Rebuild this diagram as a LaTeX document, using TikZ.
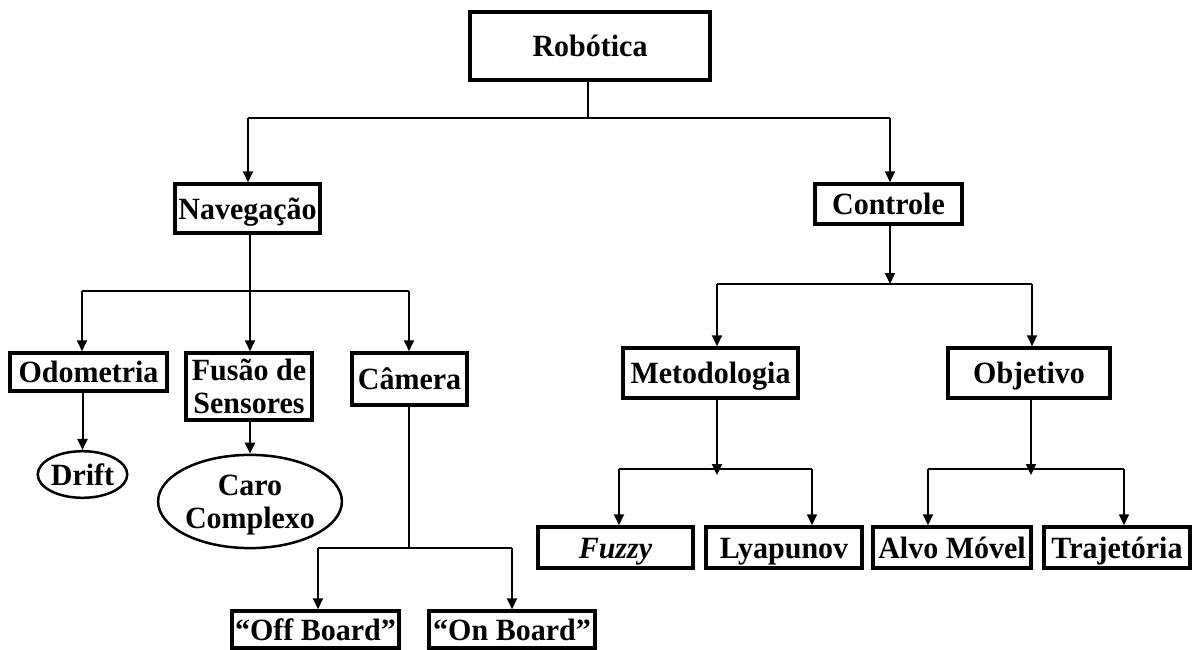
\documentclass[tikz,border=0pt]{standalone}
\usepackage{fontspec}
\usepackage{graphicx}
\setmainfont{Liberation Serif}
\usetikzlibrary{arrows.meta,shapes.geometric}
\newcommand{\stretchtxt}[1]{\raisebox{-4pt}[\height][\depth]{\scalebox{1}[1.03]{\begin{tabular}{@{}c@{}}#1\end{tabular}}}}
\begin{document}
\begin{tikzpicture}[x=1pt,y=-1pt,
  lbl/.style={font=\fontsize{30}{32}\selectfont\bfseries, align=center, inner sep=0pt},
  box/.style={lbl, draw, line width=3.5pt, rectangle},
  oval/.style={lbl, draw, line width=2.5pt, ellipse},
  conn/.style={line width=2pt},
  arr/.style={conn, -{Triangle[length=11pt,width=10pt]}}
]
\useasboundingbox (0,0) rectangle (1202,650);

% nodes
\node[box, minimum width=240, minimum height=68] (rob) at (590,46) {\stretchtxt{Robótica}};
\node[box, minimum width=145, minimum height=49] (nav) at (247.5,208.5) {\stretchtxt{Navegação}};
\node[box, minimum width=147, minimum height=40] (ctl) at (888.5,204) {\stretchtxt{Controle}};
\node[box, minimum width=157, minimum height=38] (odo) at (88.5,372) {\stretchtxt{Odometria}};
\node[box, minimum width=126, minimum height=67] (fus) at (249,386.5) {\stretchtxt{Fusão de\\Sensores}};
\node[box, minimum width=115, minimum height=52] (cam) at (409.5,379) {\stretchtxt{Câmera}};
\node[oval, minimum width=89, minimum height=45] (drift) at (82.5,474.5) {\stretchtxt{Drift}};
\node[oval, minimum width=166, minimum height=93] (caro) at (250,501.5) {\stretchtxt{Caro\\Complexo}};
\node[box, minimum width=167, minimum height=37] (off) at (315.5,629.5) {\stretchtxt{“Off Board”}};
\node[box, minimum width=166, minimum height=37] (on) at (512,629.5) {\stretchtxt{“On Board”}};
\node[box, minimum width=175, minimum height=50] (met) at (710.5,373) {\stretchtxt{Metodologia}};
\node[box, minimum width=162, minimum height=50] (obj) at (1029,373) {\stretchtxt{Objetivo}};
\node[box, minimum width=155, minimum height=41] (fuz) at (615.5,547.5) {\stretchtxt{\textit{Fuzzy}}};
\node[box, minimum width=156, minimum height=41] (lya) at (784,547.5) {\stretchtxt{Lyapunov}};
\node[box, minimum width=158, minimum height=41] (alv) at (952,547.5) {\stretchtxt{Alvo Móvel}};
\node[box, minimum width=146, minimum height=41] (tra) at (1117,547.5) {\stretchtxt{Trajetória}};

% junction points
\coordinate (jr) at (588,118);
\coordinate (jrl) at (248,118);
\coordinate (jrr) at (890,118);
\coordinate (jn) at (250,291);
\coordinate (jnl) at (82,291);
\coordinate (jnr) at (409,291);
\coordinate (jc) at (890,284);
\coordinate (jcl) at (717,284);
\coordinate (jcr) at (1032,284);
\coordinate (jm) at (717,469);
\coordinate (jml) at (619,469);
\coordinate (jmr) at (812,469);
\coordinate (jo) at (1031,469);
\coordinate (jol) at (928,469);
\coordinate (jor) at (1124,469);
\coordinate (jk) at (409,548);
\coordinate (jkl) at (318,548);
\coordinate (jkr) at (512,548);

% Robotica
\draw[conn] (rob.south -| jr) -- (jr);
\draw[conn] (jrl) -- (jrr);
\draw[arr] (jrl) -- (jrl |- nav.north);
\draw[arr] (jrr) -- (jrr |- ctl.north);

% Navegacao
\draw[conn] (nav.south -| jn) -- (jn);
\draw[conn] (jnl) -- (jnr);
\draw[arr] (jnl) -- (jnl |- odo.north);
\draw[arr] (jn) -- (jn |- fus.north);
\draw[arr] (jnr) -- (jnr |- cam.north);

% children of Navegacao
\draw[arr] (drift.north |- odo.south) -- (drift.north);
\draw[arr] (caro.north |- fus.south) -- (caro.north);

% Camera
\draw[conn] (cam.south -| jk) -- (jk);
\draw[conn] (jkl) -- (jkr);
\draw[arr] (jkl) -- (jkl |- off.north);
\draw[arr] (jkr) -- (jkr |- on.north);

% Controle
\draw[arr] (ctl.south -| jc) -- (jc);
\draw[conn] (jcl) -- (jcr);
\draw[arr] (jcl) -- (jcl |- met.north);
\draw[arr] (jcr) -- (jcr |- obj.north);

% Metodologia
\draw[arr] (met.south -| jm) -- ([yshift=-6pt]jm);
\draw[conn] (jml) -- (jmr);
\draw[arr] (jml) -- (jml |- fuz.north);
\draw[arr] (jmr) -- (jmr |- lya.north);

% Objetivo
\draw[arr] (obj.south -| jo) -- ([yshift=-6pt]jo);
\draw[conn] (jol) -- (jor);
\draw[arr] (jol) -- (jol |- alv.north);
\draw[arr] (jor) -- (jor |- tra.north);
\end{tikzpicture}
\end{document}
